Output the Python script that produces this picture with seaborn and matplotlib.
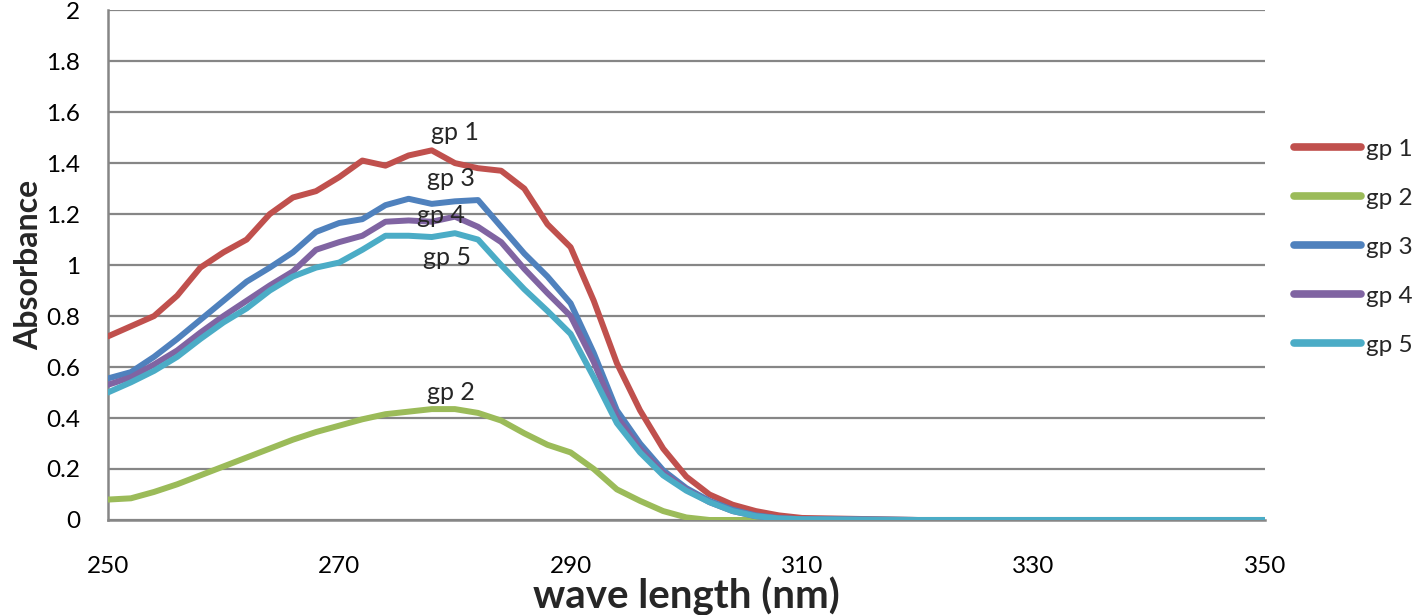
import numpy as np
import pandas as pd
import matplotlib
matplotlib.use("Agg")
import matplotlib.pyplot as plt
from matplotlib.ticker import FuncFormatter, MultipleLocator
import seaborn as sns

# wavelength (nm) and absorbance readings per group
wavelength = [250, 252, 254, 256, 258, 260, 262, 264, 266, 268, 270, 272, 274, 276, 278, 280,
              282, 284, 286, 288, 290, 292, 294, 296, 298, 300, 302, 304, 306, 308, 310,
              320, 330, 340, 350]
gp1 = [0.72, 0.76, 0.80, 0.88, 0.99, 1.05, 1.10, 1.20, 1.265, 1.29, 1.345, 1.41, 1.39, 1.43, 1.45, 1.40,
       1.38, 1.37, 1.30, 1.16, 1.07, 0.86, 0.615, 0.43, 0.28, 0.17, 0.10, 0.06, 0.035, 0.018, 0.008,
       0.0, 0.0, 0.0, 0.0]
gp2 = [0.08, 0.085, 0.11, 0.14, 0.175, 0.21, 0.245, 0.28, 0.315, 0.345, 0.37, 0.395, 0.415, 0.425, 0.435, 0.435,
       0.42, 0.39, 0.34, 0.295, 0.265, 0.20, 0.12, 0.075, 0.035, 0.01, 0.0, 0.0, 0.0, 0.0, 0.0,
       0.0, 0.0, 0.0, 0.0]
gp3 = [0.555, 0.58, 0.64, 0.71, 0.785, 0.86, 0.935, 0.99, 1.05, 1.13, 1.165, 1.18, 1.235, 1.26, 1.24, 1.25,
       1.255, 1.15, 1.045, 0.955, 0.85, 0.655, 0.43, 0.30, 0.195, 0.125, 0.075, 0.04, 0.018, 0.007, 0.003,
       0.0, 0.0, 0.0, 0.0]
gp4 = [0.53, 0.56, 0.61, 0.665, 0.735, 0.80, 0.86, 0.92, 0.975, 1.06, 1.09, 1.115, 1.17, 1.175, 1.17, 1.19,
       1.15, 1.09, 0.985, 0.89, 0.80, 0.62, 0.405, 0.28, 0.185, 0.12, 0.07, 0.035, 0.015, 0.006, 0.003,
       0.0, 0.0, 0.0, 0.0]
gp5 = [0.50, 0.54, 0.585, 0.64, 0.71, 0.775, 0.83, 0.90, 0.955, 0.99, 1.01, 1.06, 1.115, 1.115, 1.11, 1.125,
       1.10, 1.00, 0.905, 0.82, 0.73, 0.56, 0.38, 0.265, 0.175, 0.115, 0.07, 0.035, 0.015, 0.006, 0.003,
       0.0, 0.0, 0.0, 0.0]

groups = ["gp 1", "gp 2", "gp 3", "gp 4", "gp 5"]
colors = ["#C0504D", "#9BBB59", "#4F81BD", "#8064A2", "#4BACC6"]
x_ticks = [250, 270, 290, 310, 330, 350]

# in-plot labels (x, y in data units)
label_pos = {"gp 1": (280.0, 1.52), "gp 3": (279.7, 1.34), "gp 4": (278.8, 1.195),
             "gp 5": (279.3, 1.03), "gp 2": (279.7, 0.50)}

df = pd.DataFrame({"wavelength": wavelength, "gp 1": gp1, "gp 2": gp2,
                   "gp 3": gp3, "gp 4": gp4, "gp 5": gp5})
long_df = df.melt(id_vars="wavelength", var_name="group", value_name="absorbance")

sns.set_theme(style="white")
plt.rcParams['font.family'] = ['Lato', 'DejaVu Sans']

fig = plt.figure(figsize=(14.18, 6.15), dpi=100)
ax = fig.add_axes([0.076, 0.1545, 0.816, 0.829])

sns.lineplot(data=long_df, x="wavelength", y="absorbance", hue="group",
             hue_order=groups, palette=colors, linewidth=4.3, ax=ax,
             solid_joinstyle="round", solid_capstyle="round", zorder=3)

grid_c = "#868686"
ax.set_xlim(250, 350)
ax.set_ylim(0, 2)
ax.set_xticks(x_ticks)
ax.yaxis.set_major_locator(MultipleLocator(0.2))
ax.yaxis.set_major_formatter(FuncFormatter(lambda v, p: f"{v:g}"))
ax.grid(axis="y", color=grid_c, linewidth=1.6, zorder=0)
ax.grid(axis="x", visible=False)
for s in ["top", "right"]:
    ax.spines[s].set_visible(False)
for s in ["left", "bottom"]:
    ax.spines[s].set_color(grid_c)
    ax.spines[s].set_linewidth(1.8)
ax.tick_params(axis="both", colors=grid_c, labelcolor="black", labelsize=17.5, width=1.8)
ax.tick_params(axis="x", direction="out", length=8, pad=18)
ax.tick_params(axis="y", direction="out", length=6, pad=14)

ax.set_xlabel("wave length (nm)", fontsize=29, fontweight="bold", labelpad=0)
ax.set_ylabel("Absorbance", fontsize=23, fontweight="bold", labelpad=2)

for g, (x, y) in label_pos.items():
    ax.text(x, y, g, fontsize=18, ha="center", va="center", zorder=4)

leg = ax.legend(loc="center left", bbox_to_anchor=(1.013, 0.535), frameon=False,
                fontsize=17.5, handlelength=2.75, handletextpad=0.2, labelspacing=1.15,
                borderaxespad=0.4, borderpad=0.2)
for line in leg.get_lines():
    line.set_linewidth(5.5)
    line.set_solid_capstyle("round")

fig.savefig("out.png", dpi=100)
